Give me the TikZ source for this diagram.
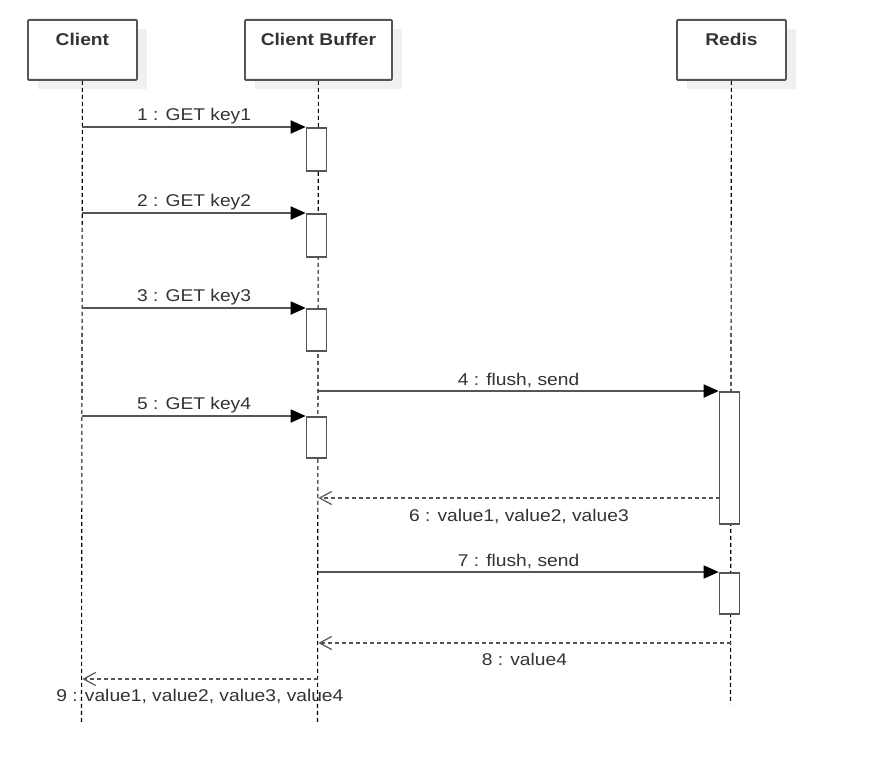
\documentclass[tikz,border=0pt]{standalone}
\usepackage{fontspec}
\setmainfont{Liberation Sans}[FakeStretch=1.13]
\usetikzlibrary{arrows.meta}
\definecolor{linec}{HTML}{555555}
\definecolor{txtc}{HTML}{333333}
\definecolor{shadowc}{HTML}{F0F0F0}
\begin{document}
\begin{tikzpicture}[x=1pt,y=-1pt,
  hdr/.style={draw=linec, line width=1.8pt, fill=white, rounded corners=1pt,
    minimum height=60pt, anchor=north west, inner sep=0pt},
  hdrshadow/.style={fill=shadowc, draw=none, minimum height=60pt, anchor=north west, inner sep=0pt},
  hdrtxt/.style={text=txtc, font=\fontsize{17}{20}\selectfont\bfseries, inner sep=0pt},
  life/.style={draw=black, line width=1.1pt, dash pattern=on 4pt off 3pt},
  act/.style={draw=linec, line width=1.6pt, fill=white, minimum width=20pt, anchor=north, inner sep=0pt},
  msg/.style={draw=linec, line width=1.8pt, -{Triangle[length=15pt,width=13pt,color=black]}},
  ret/.style={draw=linec, line width=1.5pt, dash pattern=on 4pt off 3pt,
    -{Straight Barb[length=12pt,width=13pt,line width=1.2pt]}},
  lbl/.style={text=txtc, font=\fontsize{17}{20}\selectfont, inner sep=2pt}
]
\useasboundingbox[fill=white] (0,0) rectangle (894,765);

% shadows
\node[hdrshadow, minimum width=109pt] (clientS) at (38,29) {};
\node[hdrshadow, minimum width=147pt] (bufferS) at (255,29) {};
\node[hdrshadow, minimum width=109pt] (redisS) at (687,29) {};

% headers
\node[hdr, minimum width=109pt] (client) at (27,19) {};
\node[hdr, minimum width=147pt] (buffer) at (244,19) {};
\node[hdr, minimum width=109pt] (redis) at (676,19) {};
\node[hdrtxt] (clientT) at ([yshift=-20pt]client.north) {Client};
\node[hdrtxt] (bufferT) at ([yshift=-20pt]buffer.north) {Client Buffer};
\node[hdrtxt] (redisT) at ([yshift=-20pt]redis.north) {Redis};

% lifeline ends
\coordinate (clientEnd) at (81.5,723);
\coordinate (bufferEnd) at (317.5,723);
\coordinate (redisEnd) at (730.5,704);
\draw[life] (client.south) -- (clientEnd);
\draw[life] (buffer.south) -- (bufferEnd);
\draw[life] (redis.south) -- (redisEnd);

% activations
\node[act, minimum height=43pt] (a1) at (316.5,127) {};
\node[act, minimum height=43pt] (a2) at (316.5,213) {};
\node[act, minimum height=42pt] (a3) at (316.5,308) {};
\node[act, minimum height=132pt] (r1) at (729.5,391) {};
\node[act, minimum height=41pt] (a5) at (316.5,416) {};
\node[act, minimum height=41pt] (r2) at (729.5,572) {};

% messages
\draw[msg] (client.center |- a1.north) -- node[lbl, above] (m1) {1 : GET key1} (a1.north west);
\draw[msg] (client.center |- a2.north) -- node[lbl, above] (m2) {2 : GET key2} (a2.north west);
\draw[msg] (client.center |- a3.north) -- node[lbl, above] (m3) {3 : GET key3} (a3.north west);
\draw[msg] (buffer.center |- r1.north) -- node[lbl, above] (m4) {4 : flush, send} (r1.north west);
\draw[msg] (client.center |- a5.north) -- node[lbl, above] (m5) {5 : GET key4} (a5.north west);
\coordinate (r6) at (719.5,498);
\draw[ret] (r6) -- node[lbl, below=8pt] (m6) {6 : value1, value2, value3} (buffer.center |- r6);
\draw[msg] (buffer.center |- r2.north) -- node[lbl, above] (m7) {7 : flush, send} (r2.north west);
\coordinate (r8) at (730.5,643);
\draw[ret] (r8) -- node[lbl, below=7pt] (m8) {8 : value4} (buffer.center |- r8);
\coordinate (r9) at (317.5,679);
\draw[ret] (r9) -- node[lbl, below=7pt] (m9) {9 : value1, value2, value3, value4} (client.center |- r9);
\end{tikzpicture}
\end{document}
